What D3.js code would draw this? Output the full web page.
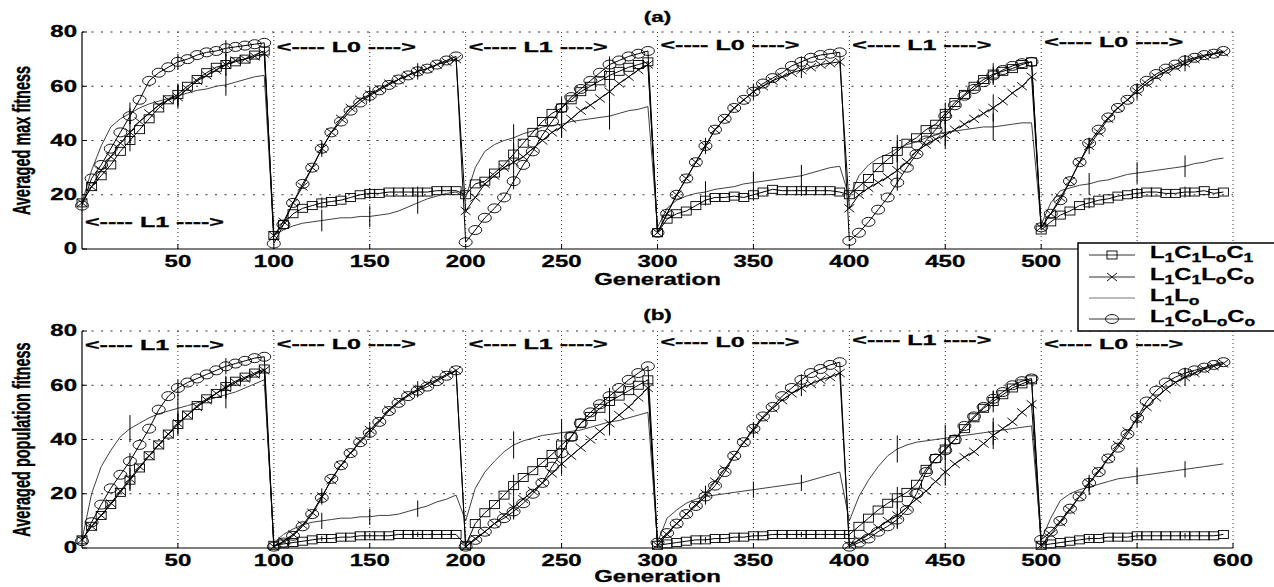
<!DOCTYPE html>
<html><head><meta charset="utf-8">
<script src="https://cdn.jsdelivr.net/npm/d3@7"></script>
<style>body{margin:0;background:#fff}svg{display:block}</style>
</head><body>
<svg id="c" width="1274" height="587"></svg>
<script>
// ---------------- DATA ----------------
const generations = d3.range(0, 600, 5);          // sampled generations
const xTicks = [50,100,150,200,250,300,350,400,450,500,550,600];
const yTicks = [0,20,40,60,80];
const seriesNames = [["L","1","C","1","L","o","C","1"],["L","1","C","1","L","o","C","o"],["L","1","L","o"],["L","1","C","o","L","o","C","o"]];
const phaseStarts = [0,100,200,300,400,500];
const phaseLabels = ["L1","L0","L1","L0","L1","L0"];
const errorOffsets = [25,50,75];

// (a) averaged max fitness
const maxL1C1L0C1 = [
 17,23,27,31,36,40,44,48,52,55,57,60,62.5,65,67,68,69,70,71.5,73,
 5,9,13,15,16,17,17.5,18,19,20,20.5,20.5,21,21,21,21,21,21.5,21.5,21.5,
 20,24,25,28,31,35,39,43,47,50,52,55,58,60,62,64,65.5,67,68,69,
 6,11,13,14,16,18,19,19,19.5,19,20,21,22,21.5,21.5,21.5,21.5,21.5,21.5,21,
 20,23,26,30,33,36,39,41,44,46,50,54,57,60,62.5,64.5,65.5,66.5,68,69,
 7,10,12.5,14,16,17,18,18.5,19.5,20,20.5,21,21,20.5,20.5,21,21,21.5,20.5,21];
const maxL1C1L0C0 = [
 17,23,29,34,39,43,47,50,53,55,56,59,62,64,66,68,69.5,70,71,72,
 5,10,17,23,30,37,43,48,52,55,57,59,61,62.5,64,65.5,66.5,68,69,70,
 14,19,24,27,30,32,34,37,40,43,45,48,51,53,55.5,58,61,63.5,66,68,
 6,13,20,26,32,38,44,48,52,55,58,60,62,63.5,65,66,67,68,68.5,69,
 15,20,22.5,24.5,26.5,29,32,36,38.5,40.5,42,44,46,48,50,52,54.5,57.5,60,63.5,
 8,13,19,25,32,38,43,48,52,55,58,61,63.5,65.5,67,68.5,70,71,72,72.5];
const maxL1L0 = [
 17,29,38,45,48,50,52,53.5,54.5,55.5,56.5,57.5,58.5,59,60,60.5,61.5,62.5,63.5,64,
 5,7,8.5,9.5,10,10.5,11,11.5,11.5,12,12,12.5,13,14,15.5,17,18.5,19.5,20.5,21,
 19,30,36,38.5,40,41,42.5,43.5,45,45.5,46,47,47.5,48,48.5,49,50,51,51.5,52.5,
 8,15,18,19.5,20.5,21,22,22.5,23,24,24.5,25,25.5,26,26.5,27,28,29,30,30.5,
 19,27,31,33.5,35,37,38.5,39.5,41,42,43,43.5,44,44.5,45,45,45.5,46,46.5,46.5,
 9,17,21.5,22.5,23.5,24,25,25.5,26.5,27.5,28,28.5,29,29.5,30,30.5,31.5,32,33,33.5];
const maxL1C0L0C0 = [
 16,26,31,37,43,49,55,62,65,67,69,70,71.5,72.5,73,74,74.5,75,75.5,76,
 2,9,17,24,30,37,43,47,51,54,56.5,58.5,60.5,62.5,64,65.5,66.5,68,69.5,71,
 2.5,7,11.5,15,19,25,31,36,42,47,52,56,59,62,65,68,69.5,71,72,73,
 6,13,20,26,32,38,44,48,52,55,58,61,63,65,67.5,69,70.5,71.5,72,72.5,
 3,6,10,14.5,19,24.5,30,35,40,44,49,53,56.5,59,61.5,64,66,67.5,68.5,69,
 8,13,18,25,32,39,44,48.5,52,55,59,62,64.5,66.5,68,69.5,70.5,71.5,72,73];

// (b) averaged population fitness
const popL1C1L0C1 = [
 3,8,12,16,20.5,25,29.5,34,38,42,45.5,49,52.5,55,57,59.5,61.5,63,64.5,66,
 1,1.5,2,2.5,3,3.5,3.5,4,4,4.5,4.5,4.5,4.5,5,5,5,5,5,5,5,
 1,9,13,16,19.5,23,26,28.5,31.5,34.5,38,41,46,48.5,51.5,54,56,58,60,62,
 1,1.5,2,2.5,3,3,3.5,3.5,4,4,4.5,4.5,5,5,5,5,5,5,5,5,
 5,8,11,14,16.5,18.5,20.5,23.5,29,33,36.5,40,44,48,51.5,54,56.5,59,60.5,62,
 1,1.5,2,2.5,3,3.5,3.5,4,4,4,4.5,4.5,4.5,4.5,4.5,4.5,4.5,4.5,4.5,5];
const popL1C1L0C0 = [
 3,8,12,16.5,21,25.5,30,34,38,42,46,49,52,54.5,57,59,61,62.5,64,65.5,
 0.5,2.5,5,8.5,13,19,25,30.5,35,39.5,43.5,47,51,54,56.5,58.5,60.5,62,64,65.5,
 0.5,3.5,6,9,12,15,18,21,24,27.5,31,34,37,40,43,46,49,52,55.5,59,
 1,5,9,12.5,16,20,24.5,29,34,39,43.5,48,51.5,54.5,57,59,60.5,62,63,64.5,
 1,3,5,7.5,10,12,15,18,21,24.5,28,31,33.5,35.5,38.5,41.5,44,46.5,50,53,
 1,5,9.5,14,19,24,28.5,33,38,43,47.5,52,55.5,58.5,61,63,64.5,66,67,68];
const popL1L0 = [
 3,20,30,36,41,44,46,48,49.5,50.5,51.5,52.5,53.5,54.5,55.5,56.5,57.5,59,60.5,62,
 2,5,7,8.5,9.5,10,10.5,11,11,11.5,11.5,12,12,12.5,13.5,14.5,15.5,17,18,19.5,
 10,22,28,32,35.5,38,39.5,40.5,41.5,42,42.5,43,43.5,44.5,45.5,46.5,47,48,49,50,
 2,11,14,16.5,18,19,19.5,20,20.5,21,21.5,22,22.5,23,23.5,24,25,26,27,28,
 10,19,25,30,34,36.5,38,39,39.5,40,40.5,41,41.5,42,42.5,43,43.5,44,44.5,45,
 3,11,17.5,20,21.5,22.5,23.5,24.5,25.5,26,26.5,27,27.5,28,28.5,29,29.5,30,30.5,31];
const popL1C0L0C0 = [
 2.5,9.5,16,22,27,32,38,44,51,56,59,61,62.5,64,65.5,67,68,69,70,70.5,
 0.5,2,4.5,8,12.5,18.5,25.5,30.5,35,39,42.5,46.5,50.5,53.5,56,58,59.5,61.5,63.5,65.5,
 0.5,3,6,9,11,13.5,16.5,20,24,30,35,41,46,50,53,56,59,62,64.5,67,
 2,5.5,9,12.5,15.5,19,23,28,34,39,44,48.5,52,56,59,62,64.5,66,67.5,68.5,
 0.5,2,3.5,6,8,10.5,14,20,28,33,36,40,45,48.5,52,55,57.5,60,61.5,62.5,
 3,6,10,14.5,19,24,28,33,37,42,48,54,58,61,63,64.5,65.5,66.5,67.5,68.5];

// error-bar half lengths, one per phase
const errMaxL1C1L0C1 = [4,2,4,2,4,2];
const errMaxL1C1L0C0 = [4,3,4,3,5,3];
const errMaxL1L0     = [4,4,5,4,5,4];
const errMaxL1C0L0C0 = [3,2,3,2,3,2];
const errPopL1C1L0C1 = [4,1,4,1,4,1];
const errPopL1C1L0C0 = [4,3,4,3,5,3];
const errPopL1L0     = [5,3,5,3,5,3];
const errPopL1C0L0C0 = [3,2,3,2,3,2];

// ---------------- LAYOUT ----------------
const FONT = '"Liberation Sans", Arial, Helvetica, sans-serif';
const svg = d3.select("#c");
const x = d3.scaleLinear().domain([0, 600]).range([82, 1233]);
const markerTypes = ["square", "cross", "none", "circle"];

const panels = [
  {top: 32, bottom: 249, title: "(a)", titleY: 17, ylabel: "Averaged max fitness", genY: 280,
   hiddenTicks: [550, 600],
   data: [maxL1C1L0C1, maxL1C1L0C0, maxL1L0, maxL1C0L0C0],
   errs: [errMaxL1C1L0C1, errMaxL1C1L0C0, errMaxL1L0, errMaxL1C0L0C0],
   phaseY: [10, 74.5, 74.5, 75.5, 75.5, 76.5]},
  {top: 331, bottom: 548, title: "(b)", titleY: 315, ylabel: "Averaged population fitness", genY: 577,
   hiddenTicks: [],
   data: [popL1C1L0C1, popL1C1L0C0, popL1L0, popL1C0L0C0],
   errs: [errPopL1C1L0C1, errPopL1C1L0C0, errPopL1L0, errPopL1C0L0C0],
   phaseY: [75, 75.5, 75.5, 76, 77, 75.5]}
];

function sText(parent, px, py, str, size, anchor, sx) {
  return parent.append("text")
    .attr("transform", `translate(${px},${py}) scale(${sx || 1.5},1)`)
    .attr("text-anchor", anchor)
    .attr("dominant-baseline", "central")
    .attr("font-family", FONT).attr("font-weight", "bold")
    .attr("font-size", size).attr("fill", "#000")
    .attr("stroke", "#000").attr("stroke-width", 0.3)
    .text(str);
}

function drawMarker(g, type, cx, cy) {
  if (type === "square") {
    g.append("rect").attr("x", cx - 5).attr("y", cy - 4).attr("width", 10).attr("height", 8)
      .attr("fill", "none").attr("stroke", "#000").attr("stroke-width", 0.9);
  } else if (type === "circle") {
    g.append("ellipse").attr("cx", cx).attr("cy", cy).attr("rx", 6.5).attr("ry", 4.5)
      .attr("fill", "none").attr("stroke", "#000").attr("stroke-width", 0.9);
  } else if (type === "cross") {
    g.append("path").attr("d", `M${cx-5},${cy-4}L${cx+5},${cy+4}M${cx-5},${cy+4}L${cx+5},${cy-4}`)
      .attr("fill", "none").attr("stroke", "#000").attr("stroke-width", 0.9);
  }
}

panels.forEach(p => {
  const y = d3.scaleLinear().domain([0, 80]).range([p.bottom, p.top]);
  const g = svg.append("g");

  // grid
  xTicks.forEach(t => {
    g.append("line").attr("x1", x(t)).attr("x2", x(t)).attr("y1", p.top).attr("y2", p.bottom)
      .attr("stroke", "#333").attr("stroke-width", 1).attr("stroke-dasharray", "1,3");
  });
  yTicks.filter(t => t > 0).forEach(t => {
    g.append("line").attr("x1", x(0)).attr("x2", x(600)).attr("y1", y(t)).attr("y2", y(t))
      .attr("stroke", "#333").attr("stroke-width", 1).attr("stroke-dasharray", "2,7.5");
  });

  // lines
  p.data.forEach((vals, si) => {
    const line = d3.line().x((d, i) => x(generations[i])).y(d => y(d));
    g.append("path").datum(vals).attr("d", line).attr("fill", "none")
      .attr("stroke", si === 2 ? "#2a2a2a" : "#000").attr("stroke-width", si === 2 ? 0.9 : 1);
  });

  // markers
  p.data.forEach((vals, si) => {
    vals.forEach((v, i) => drawMarker(g, markerTypes[si], x(generations[i]), y(v)));
  });

  // error bars
  p.data.forEach((vals, si) => {
    phaseStarts.forEach((ps, k) => {
      errorOffsets.forEach(off => {
        const gen = ps + off;
        const idx = generations.indexOf(gen);
        const v = vals[idx], h = p.errs[si][k];
        g.append("line").attr("x1", x(gen)).attr("x2", x(gen))
          .attr("y1", y(v - h)).attr("y2", y(v + h))
          .attr("stroke", "#000").attr("stroke-width", 1);
      });
    });
  });

  // axes
  g.append("line").attr("x1", x(0)).attr("x2", x(0)).attr("y1", p.top).attr("y2", p.bottom)
    .attr("stroke", "#000").attr("stroke-width", 1.2);
  g.append("line").attr("x1", x(0)).attr("x2", x(600)).attr("y1", p.bottom).attr("y2", p.bottom)
    .attr("stroke", "#000").attr("stroke-width", 1.2);
  xTicks.forEach(t => {
    g.append("line").attr("x1", x(t)).attr("x2", x(t)).attr("y1", p.bottom).attr("y2", p.bottom - 5)
      .attr("stroke", "#000");
    if (!p.hiddenTicks.includes(t)) sText(g, x(t), p.bottom + 12.5, String(t), 16, "middle");
  });
  yTicks.forEach(t => {
    g.append("line").attr("x1", x(0)).attr("x2", x(0) + 5).attr("y1", y(t)).attr("y2", y(t))
      .attr("stroke", "#000");
    sText(g, 77, y(t), String(t), 16, "end");
  });

  // axis titles
  sText(g, (x(0) + x(600)) / 2, p.genY, "Generation", 16, "middle");
  sText(g, (x(0) + x(600)) / 2, p.titleY, p.title, 15, "middle");
  g.append("text")
    .attr("transform", `translate(22,${(p.top + p.bottom) / 2}) rotate(-90) scale(1,1.6)`)
    .attr("text-anchor", "middle").attr("dominant-baseline", "central")
    .attr("font-family", FONT).attr("font-weight", "bold").attr("font-size", 14.5)
    .attr("stroke", "#000").attr("stroke-width", 0.25)
    .text(p.ylabel);

  // phase annotations
  phaseStarts.forEach((ps, k) => {
    g.append("text")
      .attr("x", x(ps) + 3).attr("y", y(p.phaseY[k]))
      .attr("dominant-baseline", "central")
      .attr("font-family", FONT).attr("font-weight", "bold").attr("font-size", 15)
      .attr("stroke", "#000").attr("stroke-width", 0.3)
      .attr("textLength", 139).attr("lengthAdjust", "spacingAndGlyphs")
      .text(`<---- ${phaseLabels[k]} ---->`);
  });
});

// ---------------- LEGEND ----------------
const lg = svg.append("g");
lg.append("rect").attr("x", 1078).attr("y", 243).attr("width", 210).attr("height", 88)
  .attr("fill", "#fff").attr("stroke", "#000").attr("stroke-width", 1.5);
const rowY = [255, 277, 298, 319];
seriesNames.forEach((parts, i) => {
  lg.append("line").attr("x1", 1089).attr("x2", 1135).attr("y1", rowY[i]).attr("y2", rowY[i])
    .attr("stroke", i === 2 ? "#777" : "#333").attr("stroke-width", 1);
  drawMarker(lg, markerTypes[i], 1112, rowY[i]);
  const t = lg.append("text")
    .attr("transform", `translate(1150,${rowY[i] + 3}) scale(1.4,1)`)
    .attr("font-family", FONT).attr("font-weight", "bold").attr("font-size", 17)
    .attr("stroke", "#000").attr("stroke-width", 0.3);
  parts.forEach((s, j) => {
    if (j % 2 === 0) t.append("tspan").attr("dy", j === 0 ? 0 : -4).attr("font-size", 17).text(s);
    else t.append("tspan").attr("dy", 4).attr("font-size", 12.5).text(s);
  });
});
</script>
</body></html>
